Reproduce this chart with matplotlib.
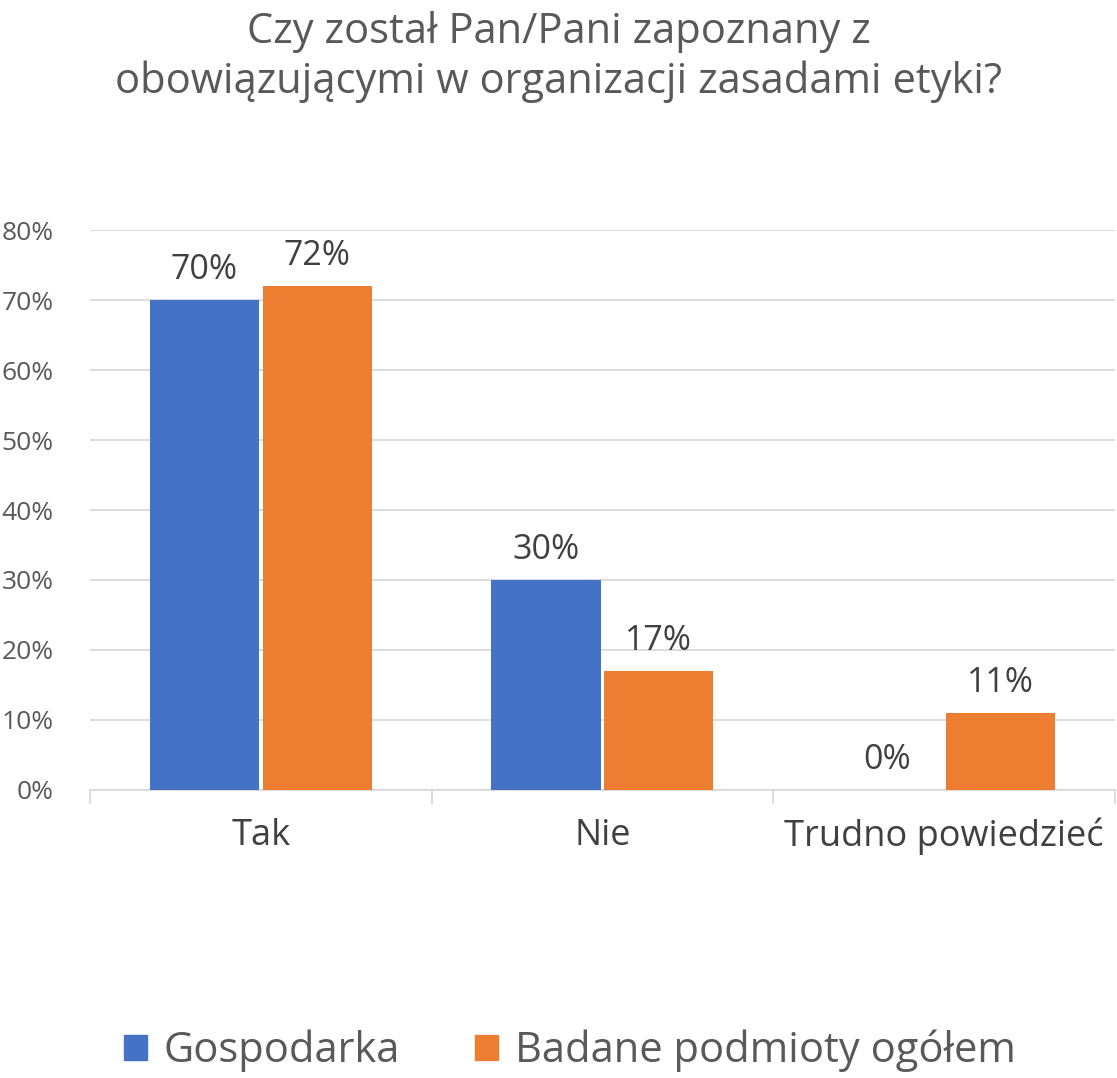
import matplotlib.pyplot as plt
import numpy as np
from matplotlib.patches import Patch

plt.rcParams['font.family'] = ['Open Sans', 'DejaVu Sans']

categories = ['Tak', 'Nie', 'Trudno powiedzieć']
series_names = ['Gospodarka', 'Badane podmioty ogółem']
gospodarka = [70, 30, 0]
ogolem = [72, 17, 11]
colors = ['#4472C4', '#ED7D31']
text_col = '#595959'

fig = plt.figure(figsize=(11.17, 10.78), dpi=100)
ax = fig.add_axes([0.0806, 0.2672, 0.9174, 0.5194])

x = np.arange(len(categories))
w = 0.32
off = 0.165
for vals, c, dx in [(gospodarka, colors[0], -off), (ogolem, colors[1], off)]:
    bars = ax.bar(x + dx, vals, width=w, color=c, zorder=3)
    for b, v in zip(bars, vals):
        ax.text(b.get_x() + b.get_width() / 2, v + 1.8, f'{v}%', ha='center', va='bottom',
                fontsize=24.5, color='#404040')

ax.set_xlim(-0.5, 2.5)
ax.set_ylim(0, 80)
ax.set_yticks(range(0, 81, 10))
ax.set_yticklabels([f'{t}%' for t in range(0, 81, 10)], fontsize=19, color=text_col)
ax.yaxis.grid(True, color='#D9D9D9', linewidth=1.3, zorder=0)
ax.set_xticks(x)
ax.set_xticklabels(categories, fontsize=26, color='#404040')
ax.set_xticks([-0.5, 0.5, 1.5, 2.5], minor=True)
ax.tick_params(axis='x', which='major', length=0, pad=20)
ax.tick_params(axis='x', which='minor', length=10, color='#D9D9D9', width=1.3)
ax.tick_params(axis='y', length=0, pad=26)
for s in ['top', 'right', 'left']:
    ax.spines[s].set_visible(False)
ax.spines['bottom'].set_color('#D9D9D9')
ax.spines['bottom'].set_linewidth(1.3)

fig.suptitle('Czy został Pan/Pani zapoznany z\nobowiązującymi w organizacji zasadami etyki?',
             fontsize=30, color=text_col, y=0.99, linespacing=1.25)

handles = [Patch(color=c) for c in colors]
fig.legend(handles, series_names, loc='center', bbox_to_anchor=(0.51, 0.025), ncol=2,
           frameon=False, fontsize=30, handlelength=0.55, handleheight=0.55,
           columnspacing=1.8, handletextpad=0.4, labelcolor=text_col)

fig.savefig('out.png', dpi=100)
